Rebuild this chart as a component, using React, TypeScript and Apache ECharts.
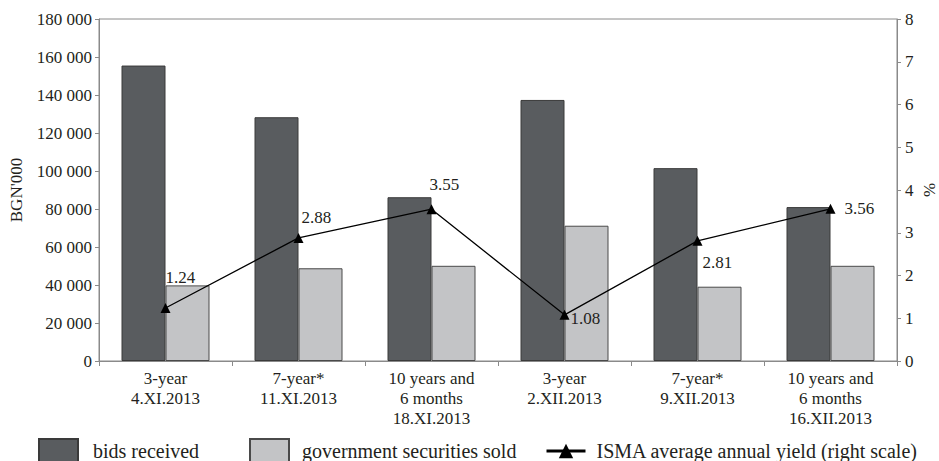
import React, { useEffect, useRef } from "react";
import * as echarts from "echarts";

const categories = [
  "3-year\n4.XI.2013",
  "7-year*\n11.XI.2013",
  "10 years and\n6 months\n18.XI.2013",
  "3-year\n2.XII.2013",
  "7-year*\n9.XII.2013",
  "10 years and\n6 months\n16.XII.2013",
];
const bidsReceived = [155500, 128300, 86200, 137400, 101500, 81000];
const securitiesSold = [39800, 48800, 50100, 71200, 39100, 50100];
const ismaYield = [1.24, 2.88, 3.55, 1.08, 2.81, 3.56];
// label offsets (dx, dy) relative to the point
const labelOffsets: [number, number][] = [
  [0, -30],
  [3, -20],
  [-2, -25],
  [6, 4],
  [5, 22],
  [14, 0],
];
const leftTicks = [0, 20000, 40000, 60000, 80000, 100000, 120000, 140000, 160000, 180000];

const FONT = "Liberation Serif";
const TXT = "#231f20";

function fmt(v: number) {
  const s = String(Math.round(v));
  return s.replace(/\B(?=(\d{3})+(?!\d))/g, " ");
}

export default function App() {
  const ref = useRef<HTMLDivElement>(null);
  useEffect(() => {
    if (!ref.current) return;
    const chart = echarts.init(ref.current, undefined, { renderer: "svg" });
    const lineData = ismaYield.map((v, i) => ({
      value: v,
      label: { offset: [labelOffsets[i][0] - 5, labelOffsets[i][1]] },
    }));
    chart.setOption({
      animation: false,
      textStyle: { fontFamily: FONT, color: TXT },
      grid: {
        left: 99,
        right: 42,
        top: 19,
        bottom: 100,
        containLabel: false,
        outerBoundsMode: "none",
        show: true,
        borderColor: "#8a8a8a",
        borderWidth: 1,
      },
      graphic: [
        {
          type: "text",
          x: 929,
          y: 190,
          rotation: Math.PI / 2,
          style: {
            text: "%",
            fontFamily: FONT,
            fontSize: 17,
            fill: TXT,
            align: "center",
            verticalAlign: "middle",
          },
        },
      ],
      legend: [
        {
          data: ["bids received"],
          icon: "rect",
          left: 38,
          top: 438,
          padding: 0,
          itemWidth: 39,
          itemHeight: 24,
          textStyle: { fontFamily: FONT, fontSize: 20, color: TXT, padding: [0, 0, 0, 10] },
        },
        {
          data: ["government securities sold"],
          icon: "rect",
          left: 249,
          top: 438,
          padding: 0,
          itemWidth: 39,
          itemHeight: 24,
          textStyle: { fontFamily: FONT, fontSize: 20, color: TXT, padding: [0, 0, 0, 8] },
        },
        {
          data: ["ISMA average annual yield (right scale)"],
          left: 545,
          top: 441,
          padding: 0,
          itemWidth: 39,
          itemHeight: 18,
          lineStyle: { width: 3 },
          textStyle: { fontFamily: FONT, fontSize: 20, color: TXT, padding: [0, 0, 0, 6] },
        },
      ],
      xAxis: {
        type: "category",
        data: categories,
        axisLine: { lineStyle: { color: "#8a8a8a", width: 1 } },
        axisTick: { show: true, alignWithLabel: false, length: 5, lineStyle: { color: "#8a8a8a" } },
        axisLabel: {
          fontFamily: FONT,
          fontSize: 17,
          color: TXT,
          lineHeight: 20,
          margin: 7,
          interval: 0,
        },
      },
      yAxis: [
        {
          type: "value",
          min: 0,
          max: 180000,
          interval: 20000,
          name: "BGN'000",
          nameLocation: "middle",
          nameGap: 74,
          nameRotate: 90,
          nameTextStyle: { fontFamily: FONT, fontSize: 17, color: TXT },
          axisLine: { show: true, lineStyle: { color: "#8a8a8a" } },
          axisTick: { show: true, length: 4, lineStyle: { color: "#8a8a8a" } },
          axisLabel: {
            fontFamily: FONT,
            fontSize: 17,
            color: TXT,
            margin: 7,
            formatter: (v: number) => (leftTicks.includes(v) ? fmt(v) : ""),
          },
          splitLine: { show: false },
        },
        {
          type: "value",
          min: 0,
          max: 8,
          interval: 1,
          position: "right",
          axisLine: { show: true, lineStyle: { color: "#8a8a8a" } },
          axisTick: { show: true, length: 4, lineStyle: { color: "#8a8a8a" } },
          axisLabel: { fontFamily: FONT, fontSize: 17, color: TXT, margin: 8 },
          splitLine: { show: false },
        },
      ],
      series: [
        {
          name: "bids received",
          type: "bar",
          data: bidsReceived,
          barWidth: 44,
          barGap: "0%",
          itemStyle: { color: "#595c5f", borderColor: "#3a3a3a", borderWidth: 1 },
        },
        {
          name: "government securities sold",
          type: "bar",
          data: securitiesSold,
          barWidth: 44,
          barGap: "0%",
          itemStyle: { color: "#c3c4c6", borderColor: "#4a4a4a", borderWidth: 1 },
        },
        {
          name: "ISMA average annual yield (right scale)",
          type: "line",
          yAxisIndex: 1,
          data: lineData,
          symbol: "triangle",
          symbolSize: 10,
          itemStyle: { color: "#000" },
          lineStyle: { color: "#000", width: 1.3 },
          label: {
            show: true,
            position: "right",
            distance: 0,
            fontFamily: FONT,
            fontSize: 17,
            color: TXT,
            formatter: (p: any) => Number(p.value).toFixed(2),
          },
        },
      ],
    });
    return () => chart.dispose();
  }, []);
  return (
    <div
      ref={ref}
      style={{ position: "fixed", left: 0, top: 0, width: 939, height: 461, background: "#fff" }}
    />
  );
}
